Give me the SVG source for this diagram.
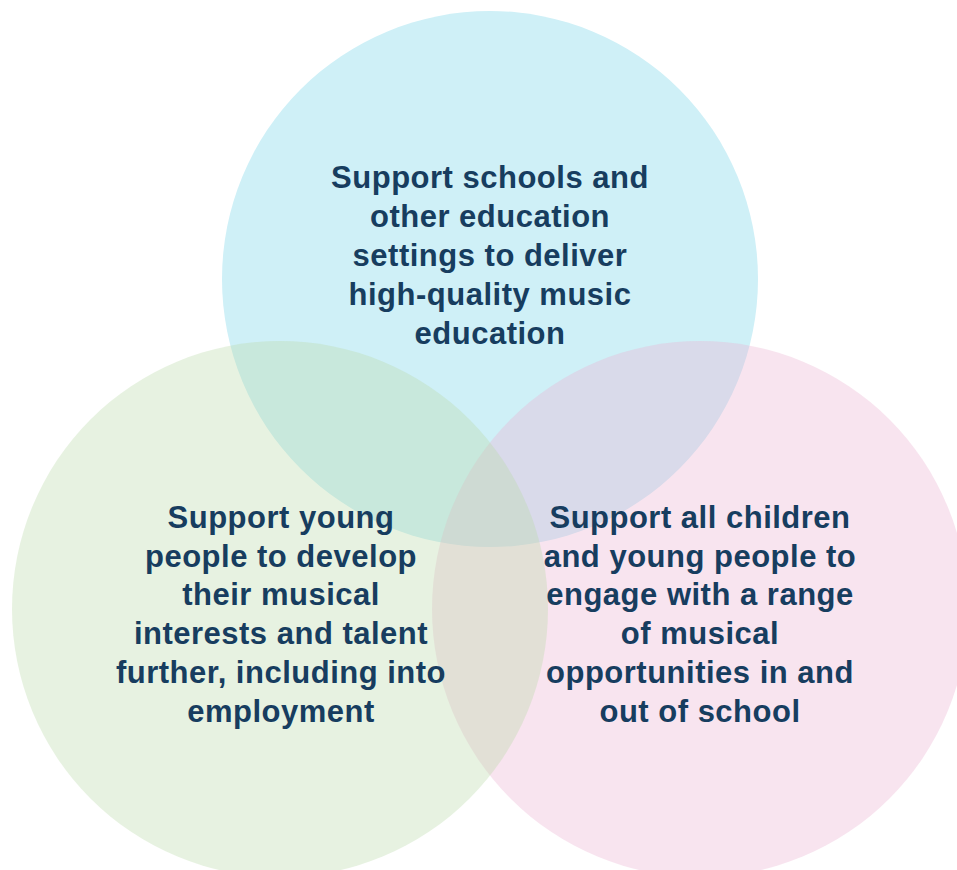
<svg xmlns="http://www.w3.org/2000/svg" width="957" height="870" viewBox="0 0 957 870">
<style>
.lbl{font-family:"Liberation Sans",Arial,Helvetica,sans-serif;font-weight:bold;font-size:31px;letter-spacing:0.5px;fill:#173d5f;text-anchor:middle}
</style>
<rect width="957" height="870" fill="#ffffff"/>
<g id="circles">
<g id="node-schools"><circle cx="490" cy="279" r="268" fill="#cff0f7"/></g>
<g id="node-engage"><circle cx="700" cy="609" r="268" fill="#ebb2d1" fill-opacity="0.35"/></g>
<g id="node-talent"><circle cx="280" cy="609" r="268" fill="#badaa9" fill-opacity="0.35"/></g>
</g>
<g id="connectors"></g>
<g id="labels">
<g id="label-schools">
<text class="lbl" x="490" y="188">Support schools and</text>
<text class="lbl" x="490" y="227">other education</text>
<text class="lbl" x="490" y="266">settings to deliver</text>
<text class="lbl" x="490" y="305">high-quality music</text>
<text class="lbl" x="490" y="344">education</text>
</g>
<g id="label-talent">
<text class="lbl" x="281" y="528">Support young</text>
<text class="lbl" x="281" y="567">people to develop</text>
<text class="lbl" x="281" y="605">their musical</text>
<text class="lbl" x="281" y="644">interests and talent</text>
<text class="lbl" x="281" y="683">further, including into</text>
<text class="lbl" x="281" y="722">employment</text>
</g>
<g id="label-engage">
<text class="lbl" x="700" y="528">Support all children</text>
<text class="lbl" x="700" y="567">and young people to</text>
<text class="lbl" x="700" y="605">engage with a range</text>
<text class="lbl" x="700" y="644">of musical</text>
<text class="lbl" x="700" y="683">opportunities in and</text>
<text class="lbl" x="700" y="722">out of school</text>
</g>
</g>
</svg>
